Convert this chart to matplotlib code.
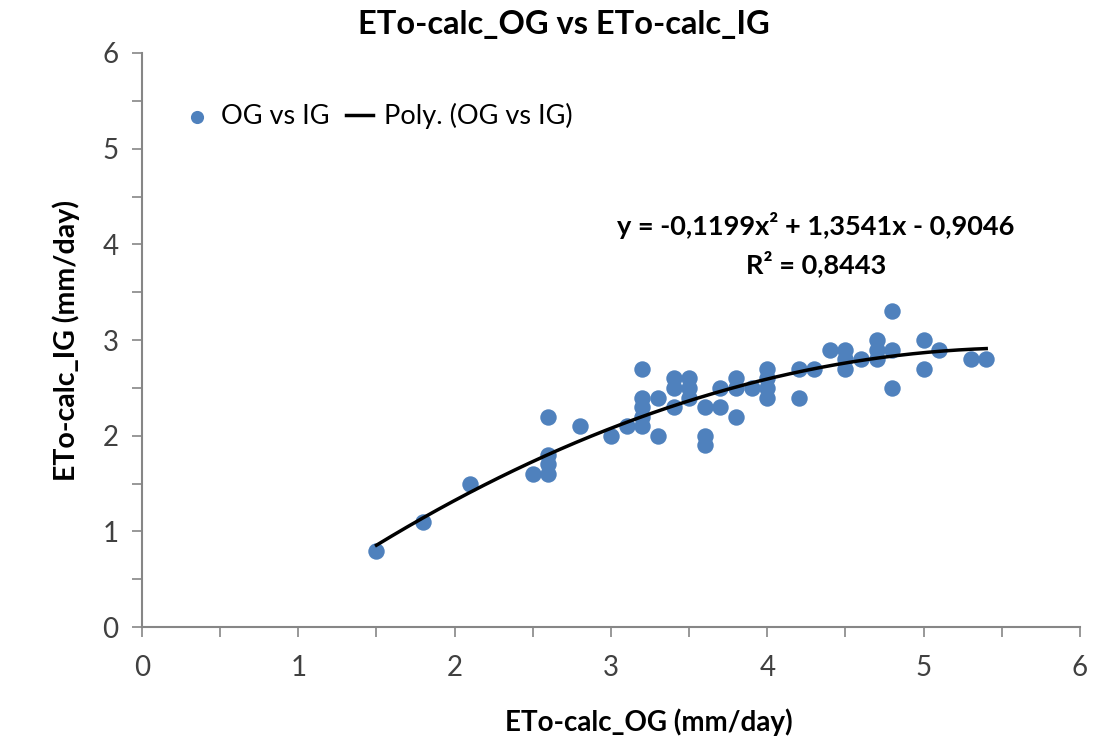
import numpy as np
import matplotlib.pyplot as plt
from matplotlib.ticker import MultipleLocator

plt.rcParams['font.family'] = ['Lato', 'DejaVu Sans']

# ETo values (mm/day)
og = [1.5, 1.8, 2.1, 2.5, 2.6, 2.6, 2.6, 2.6, 2.8, 3.0, 3.1,
      3.2, 3.2, 3.2, 3.2, 3.2, 3.3, 3.3, 3.4, 3.4, 3.4,
      3.5, 3.5, 3.5, 3.6, 3.6, 3.6, 3.7, 3.7, 3.8, 3.8, 3.8, 3.9,
      4.0, 4.0, 4.0, 4.0, 4.2, 4.2, 4.3, 4.4, 4.5, 4.5, 4.5, 4.6,
      4.7, 4.7, 4.7, 4.8, 4.8, 4.8, 5.0, 5.0, 5.1, 5.3, 5.4]
ig = [0.8, 1.1, 1.5, 1.6, 2.2, 1.8, 1.7, 1.6, 2.1, 2.0, 2.1,
      2.7, 2.4, 2.3, 2.2, 2.1, 2.4, 2.0, 2.6, 2.5, 2.3,
      2.6, 2.5, 2.4, 2.3, 2.0, 1.9, 2.5, 2.3, 2.6, 2.5, 2.2, 2.5,
      2.7, 2.6, 2.5, 2.4, 2.7, 2.4, 2.7, 2.9, 2.9, 2.8, 2.7, 2.8,
      3.0, 2.9, 2.8, 3.3, 2.9, 2.5, 3.0, 2.7, 2.9, 2.8, 2.8]

# trendline coefficients as printed on the chart
coef = [-0.1199, 1.3541, -0.9046]
r2 = 0.8443

fig = plt.figure(figsize=(10.93, 7.44), dpi=100)
ax = fig.add_axes([0.1299, 0.157, 0.8582, 0.7718])

ax.scatter(og, ig, s=140, color='#4F81BD', label='OG vs IG', zorder=3, linewidths=0)
xs = np.linspace(min(og), max(og), 200)
ax.plot(xs, np.polyval(coef, xs), color='black', lw=2.5, label='Poly. (OG vs IG)', zorder=4)

ax.set_xlim(0, 6)
ax.set_ylim(0, 6)
ax.xaxis.set_major_locator(MultipleLocator(1))
ax.yaxis.set_major_locator(MultipleLocator(1))
ax.xaxis.set_minor_locator(MultipleLocator(0.5))
ax.yaxis.set_minor_locator(MultipleLocator(0.5))
for s in ['top', 'right']:
    ax.spines[s].set_visible(False)
for s in ['left', 'bottom']:
    ax.spines[s].set_color('#868686')
    ax.spines[s].set_linewidth(1.5)
ax.tick_params(which='both', direction='out', length=7, width=1.2, color='#868686',
               labelsize=20, labelcolor='#404040')
ax.tick_params(axis='x', pad=13)
ax.tick_params(axis='y', pad=10)

ax.set_title('ETo-calc_OG vs ETo-calc_IG', fontsize=23.5, fontweight='bold', pad=14, x=0.45)
ax.set_xlabel('ETo-calc_OG (mm/day)', fontsize=20, fontweight='bold', labelpad=20, x=0.54)
ax.set_ylabel('ETo-calc_IG (mm/day)', fontsize=20.5, fontweight='bold', labelpad=16)

eq = 'y = {:.4f}x² + {:.4f}x - {:.4f}\nR² = {:.4f}'.format(coef[0], coef[1], -coef[2], r2)
ax.text(4.31, 4.0, eq.replace('.', ','), ha='center', va='center', fontsize=19.5,
        fontweight='bold', linespacing=1.5)

ax.legend(loc='upper left', bbox_to_anchor=(0.018, 0.955), ncol=2, frameon=False,
          fontsize=19.5, handlelength=1.0, handletextpad=0.4, columnspacing=0.6,
          markerscale=0.8)

fig.savefig('out.png', dpi=100)
